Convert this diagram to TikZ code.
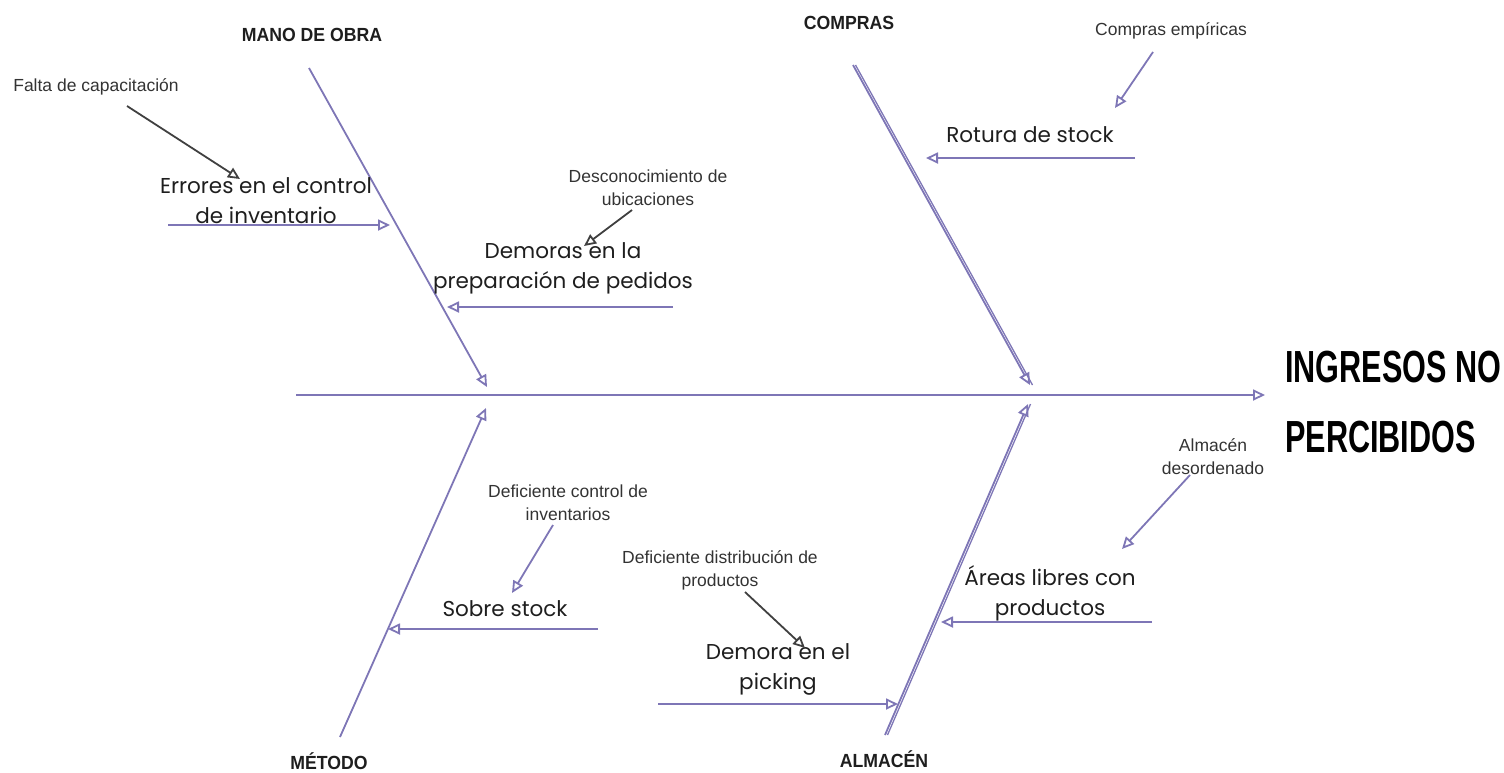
\documentclass[tikz,border=0pt]{standalone}
\usepackage{fontspec}
\setmainfont{Liberation Sans}
\newfontfamily\handfont{Poppins}
\newfontfamily\headfont[FakeStretch=0.93]{Liberation Sans}
\newfontfamily\titlefont[FakeStretch=0.68]{Liberation Sans}
\usetikzlibrary{arrows.meta}
\definecolor{bone}{HTML}{7E76B6}
\definecolor{ink}{HTML}{1E1E1E}
\definecolor{lbl}{HTML}{333333}
\tikzset{
  bonearrow/.style={draw=bone, line width=1.8pt, -{Triangle[open,length=12pt,width=11pt]}},
  boneline/.style={draw=bone, line width=1.3pt},
  darkarrow/.style={draw=ink!85, line width=1.8pt, -{Triangle[open,length=12pt,width=11pt]}},
  hand/.style={font=\handfont\fontsize{21.5}{30}\selectfont, text=ink, align=center, inner sep=0pt},
  small/.style={font=\fontsize{17.5}{23}\selectfont, text=lbl, align=center, inner sep=0pt},
  head/.style={font=\headfont\bfseries\fontsize{19}{22}\selectfont, text=ink, inner sep=0pt},
  title/.style={font=\titlefont\bfseries\fontsize{45}{70}\selectfont, text=black, align=left, inner sep=0pt, anchor=north west}
}
\begin{document}
\begin{tikzpicture}[x=1pt,y=-1pt]
\useasboundingbox (0,0) rectangle (1504,772);
% coordinates
\coordinate (spineS) at (296,395);
\coordinate (spineE) at (1265,395);
\coordinate (moS) at (309,68);   \coordinate (moE) at (487,387);
\coordinate (coS) at (853,65);   \coordinate (coE) at (1030,385);
\coordinate (meS) at (340,737);  \coordinate (meE) at (486,408);
\coordinate (alS) at (885,735);  \coordinate (alE) at (1028,404);
% spine
\draw[bonearrow] (spineS) -- (spineE);
\node[title] (title) at (1285,351) {INGRESOS NO\\PERCIBIDOS};
% main bones
\draw[bonearrow] (moS) -- (moE);
\draw[boneline] ([xshift=2.5pt]coS) -- ([xshift=2.5pt]coE);
\draw[bonearrow] (coS) -- (coE);
\draw[bonearrow] (meS) -- (meE);
\draw[boneline] ([xshift=2.5pt]alS) -- ([xshift=2.5pt]alE);
\draw[bonearrow] (alS) -- (alE);
% headers
\node[head] (hmo) at (312,35) {MANO DE OBRA};
\node[head] (hco) at (849,23) {COMPRAS};
\node[head] (hme) at (329,761) {MÉTODO};
\node[head] (hal) at (884,759) {ALMACÉN};
% Mano de obra causes
\node[hand] (c1) at (266,201) {Errores en el control\\de inventario};
\coordinate (c1s) at (168,225); \coordinate (c1e) at (390,225);
\draw[bonearrow] (c1s) -- (c1e);
\node[small] (s1) at (96,87) {Falta de capacitación};
\coordinate (s1s) at (127,106); \coordinate (s1e) at (240,179);
\draw[darkarrow] (s1s) -- (s1e);
\node[hand] (c2) at (563,268) {Demoras en la\\preparación de pedidos};
\coordinate (c2s) at (673,307); \coordinate (c2e) at (447,307);
\draw[bonearrow] (c2s) -- (c2e);
\node[small] (s2) at (648,188) {Desconocimiento de\\ubicaciones};
\coordinate (s2s) at (632,210); \coordinate (s2e) at (584,246);
\draw[darkarrow] (s2s) -- (s2e);
% Compras causes
\node[hand] (c3) at (1030,135) {Rotura de stock};
\coordinate (c3s) at (1135,158); \coordinate (c3e) at (926,158);
\draw[bonearrow] (c3s) -- (c3e);
\node[small] (s3) at (1171,31) {Compras empíricas};
\coordinate (s3s) at (1153,52); \coordinate (s3e) at (1115,108);
\draw[bonearrow] (s3s) -- (s3e);
% Metodo causes
\node[hand] (c4) at (505,609) {Sobre stock};
\coordinate (c4s) at (598,629); \coordinate (c4e) at (388,629);
\draw[bonearrow] (c4s) -- (c4e);
\node[small] (s4) at (568,503) {Deficiente control de\\inventarios};
\coordinate (s4s) at (553,525); \coordinate (s4e) at (512,593);
\draw[bonearrow] (s4s) -- (s4e);
% Almacen causes
\node[hand] (c5) at (778,669) {Demora en el\\picking};
\coordinate (c5s) at (658,704); \coordinate (c5e) at (898,704);
\draw[bonearrow] (c5s) -- (c5e);
\node[small] (s5) at (720,570) {Deficiente distribución de\\productos};
\coordinate (s5s) at (745,592); \coordinate (s5e) at (805,648);
\draw[darkarrow] (s5s) -- (s5e);
\node[hand] (c6) at (1050,593) {Áreas libres con\\productos};
\coordinate (c6s) at (1152,622); \coordinate (c6e) at (941,622);
\draw[bonearrow] (c6s) -- (c6e);
\node[small] (s6) at (1213,457) {Almacén\\desordenado};
\coordinate (s6s) at (1190,475); \coordinate (s6e) at (1122,549);
\draw[bonearrow] (s6s) -- (s6e);
\end{tikzpicture}
\end{document}
